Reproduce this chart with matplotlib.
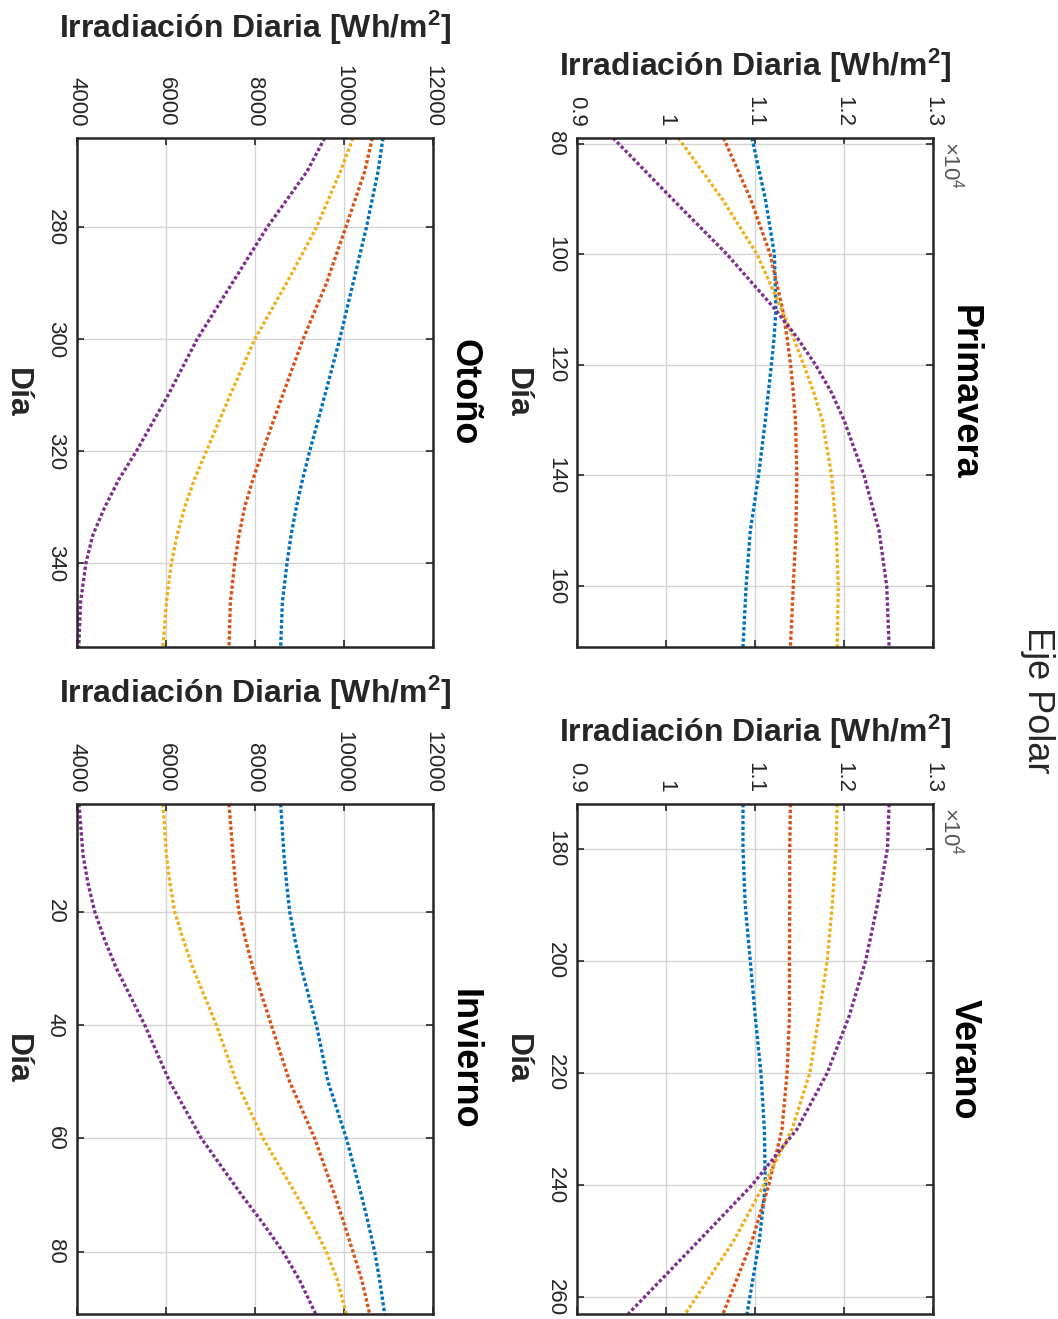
import numpy as np
import matplotlib
matplotlib.use('Agg')
import matplotlib.pyplot as plt

plt.rcParams['font.family'] = ['Liberation Sans', 'DejaVu Sans']
plt.rcParams['mathtext.default'] = 'regular'

# Daily irradiation [Wh/m2], four series per season
dias_primavera = [79, 90, 100, 110, 115, 120, 125, 130, 140, 150, 160, 171]
azul_primavera = [10966, 11116, 11218, 11235, 11215, 11184, 11150, 11116, 11040, 10947, 10900, 10865]
naranja_primavera = [10646, 10950, 11170, 11310, 11360, 11400, 11430, 11455, 11470, 11460, 11430, 11398]
amarillo_primavera = [10139, 10630, 11022, 11300, 11430, 11548, 11660, 11755, 11860, 11913, 11935, 11924]
morado_primavera = [9406, 10070, 10684, 11229, 11470, 11680, 11860, 12000, 12225, 12394, 12480, 12507]

dias_verano = [172, 180, 190, 200, 210, 220, 230, 240, 250, 263]
azul_verano = [10865, 10865, 10890, 10947, 11003, 11067, 11105, 11116, 11048, 10910]
naranja_verano = [11398, 11390, 11390, 11387, 11387, 11360, 11304, 11154, 10966, 10640]
amarillo_verano = [11924, 11910, 11868, 11811, 11717, 11616, 11417, 11098, 10759, 10215]
morado_verano = [12507, 12488, 12375, 12243, 12055, 11811, 11473, 10966, 10364, 9575]

dias_otono = [264, 270, 280, 290, 300, 310, 320, 325, 330, 335, 340, 347, 355]
azul_otono = [10876, 10764, 10503, 10202, 9903, 9570, 9229, 9070, 8929, 8810, 8719, 8615, 8577]
naranja_otono = [10637, 10465, 10038, 9604, 9078, 8620, 8170, 7955, 7768, 7640, 7543, 7447, 7416]
amarillo_otono = [10202, 9918, 9380, 8705, 7993, 7440, 6907, 6640, 6420, 6250, 6121, 6009, 5932]
morado_otono = [9566, 9168, 8270, 7483, 6697, 6045, 5334, 4944, 4624, 4355, 4200, 4080, 4040]

dias_invierno = [1, 10, 15, 20, 25, 30, 40, 50, 60, 70, 75, 80, 85, 91]
azul_invierno = [8577, 8651, 8710, 8779, 8900, 9042, 9380, 9641, 10053, 10390, 10545, 10689, 10800, 10914]
naranja_invierno = [7416, 7505, 7560, 7640, 7790, 7955, 8368, 8779, 9341, 9791, 10000, 10202, 10400, 10577]
amarillo_invierno = [5932, 6009, 6090, 6195, 6390, 6607, 7132, 7582, 8180, 8929, 9280, 9604, 9850, 10053]
morado_invierno = [4045, 4135, 4247, 4398, 4622, 4885, 5521, 6083, 6795, 7700, 8180, 8629, 9000, 9364]

colores = ['#0072BD', '#D95319', '#EDB120', '#7E2F8E']
gris = '#262626'

fig = plt.figure(figsize=(10.58, 13.19), dpi=100)

W, H = 1058, 1319
def caja(x0, x1, y0, y1):
    return [x0 / W, 1 - y1 / H, (x1 - x0) / W, (y1 - y0) / H]

# titulo, posicion, dias, series, escala x1e4, ticks de dia, altura de la etiqueta (px)
paneles = [
    ('Primavera', caja(577, 933, 138, 647), dias_primavera,
     [azul_primavera, naranja_primavera, amarillo_primavera, morado_primavera], True,
     [80, 100, 120, 140, 160], 66),
    ('Verano', caja(577, 933, 804, 1314), dias_verano,
     [azul_verano, naranja_verano, amarillo_verano, morado_verano], True,
     [180, 200, 220, 240, 260], 732),
    ('Otoño', caja(77, 433, 138, 647), dias_otono,
     [azul_otono, naranja_otono, amarillo_otono, morado_otono], False,
     [280, 300, 320, 340], 28),
    ('Invierno', caja(77, 433, 804, 1314), dias_invierno,
     [azul_invierno, naranja_invierno, amarillo_invierno, morado_invierno], False,
     [20, 40, 60, 80], 693),
]

for titulo, pos, dias, series, escala, yt, yl in paneles:
    ax = fig.add_axes(pos)
    ancho = pos[2] * W
    alto = pos[3] * H
    arriba = (1 - pos[1] - pos[3]) * H
    for serie, c in zip(series, colores):
        v = np.array(serie, dtype=float)
        if escala:
            v = v / 1e4
        ax.plot(v, dias, color=c, lw=2.4, ls=(0, (1, 0.7)))
    ax.set_ylim(max(dias), min(dias))
    if escala:
        ax.set_xlim(0.9, 1.3)
        ax.set_xticks([0.9, 1.0, 1.1, 1.2, 1.3])
        ax.set_xticklabels(['0.9', '1', '1.1', '1.2', '1.3'])
        ax.text(1.0 + 5 / ancho, 1.0 - 3 / alto, '×10$^4$', transform=ax.transAxes,
                rotation=-90, ha='left', va='top', color='#555555', fontsize=16)
    else:
        ax.set_xlim(4000, 12000)
        ax.set_xticks([4000, 6000, 8000, 10000, 12000])
        ax.set_xticklabels(['4000', '6000', '8000', '10000', '12000'])
    ax.set_yticks(yt)
    ax.xaxis.tick_top()
    ax.xaxis.set_label_position('top')
    ax.tick_params(direction='in', top=True, bottom=True, left=True, right=True,
                   labeltop=True, labelbottom=False, labelleft=True, labelright=False,
                   length=5, width=1.2, colors=gris, labelsize=16, pad=8)
    ax.tick_params(axis='x', labelrotation=-90)
    ax.tick_params(axis='y', labelrotation=-90)
    for t in ax.get_yticklabels():
        t.set_va('center')
    ax.grid(True, color='#d4d4d4', lw=1)
    for s in ax.spines.values():
        s.set_linewidth(1.8)
        s.set_color(gris)
    ax.set_xlabel('Irradiación Diaria [Wh/m$^2$]', fontsize=23, fontweight='bold',
                  color=gris, va='center')
    ax.xaxis.set_label_coords(0.5, 1 + (arriba - yl) / alto)
    ax.set_ylabel('Día', rotation=-90, va='center', ha='center', fontsize=23,
                  fontweight='bold', color=gris)
    ax.yaxis.set_label_coords(-60 / ancho, 0.5)
    ax.text(1.0 + 14 / ancho, 0.5, titulo, transform=ax.transAxes, rotation=-90,
            ha='left', va='center', fontsize=26, fontweight='bold', color='black')

fig.text(1037 / W, 1 - 700 / H, 'Eje Polar', rotation=-90, ha='center', va='center',
         fontsize=26, color=gris)

fig.savefig('out.png', dpi=100)
